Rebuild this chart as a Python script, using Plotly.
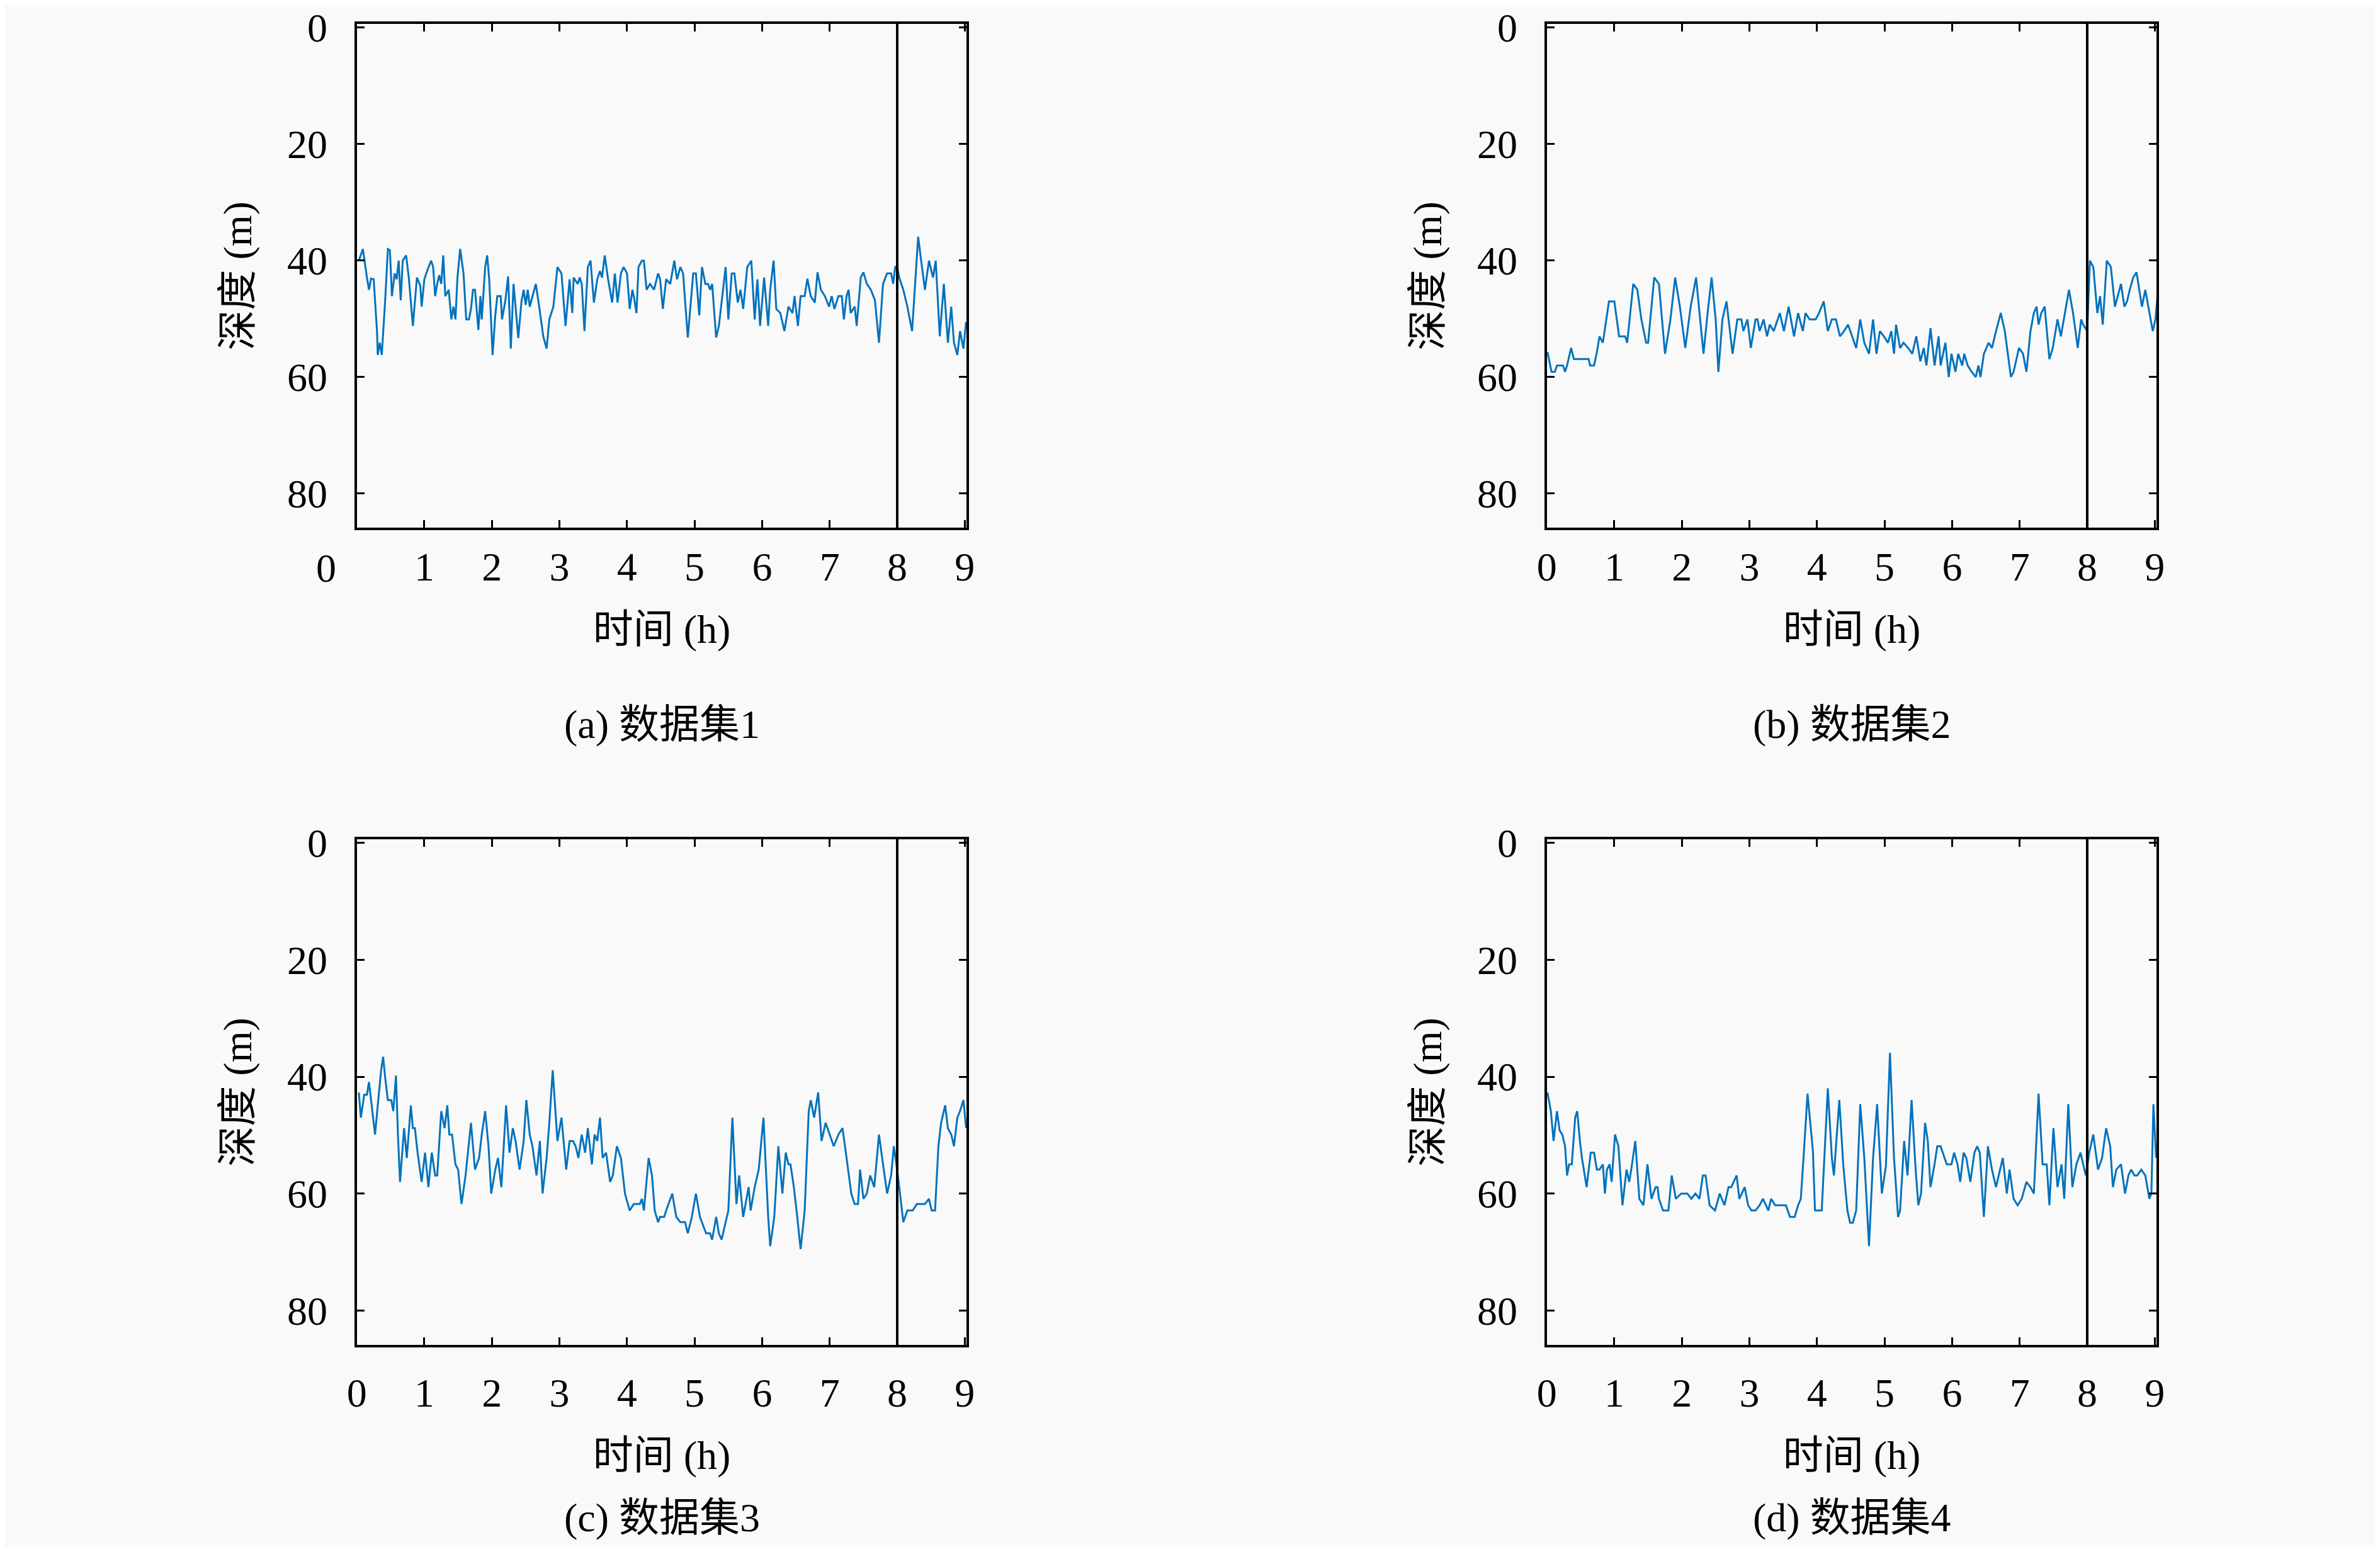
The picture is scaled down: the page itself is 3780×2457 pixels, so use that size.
import plotly.graph_objects as go
from plotly.subplots import make_subplots

# depth readings (m) against time (h), one pair of lists per data set
time_a = [
    0.03, 0.09, 0.15, 0.18, 0.21, 0.25, 0.30, 0.31, 0.34, 0.37,
    0.42, 0.46, 0.49, 0.52, 0.56, 0.59, 0.62, 0.65, 0.68, 0.73,
    0.77, 0.83, 0.89, 0.94, 0.96, 1.00, 1.04, 1.10, 1.13, 1.16,
    1.19, 1.22, 1.25, 1.28, 1.31, 1.36, 1.40, 1.43, 1.46, 1.49,
    1.53, 1.58, 1.62, 1.66, 1.69, 1.72, 1.75, 1.80, 1.83, 1.85,
    1.90, 1.93, 1.96, 2.01, 2.05, 2.08, 2.13, 2.15, 2.20, 2.24,
    2.28, 2.32, 2.35, 2.39, 2.44, 2.47, 2.50, 2.53, 2.56, 2.60,
    2.65, 2.70, 2.76, 2.81, 2.85, 2.91, 2.97, 3.03, 3.09, 3.15,
    3.19, 3.21, 3.27, 3.30, 3.33, 3.37, 3.42, 3.46, 3.51, 3.56,
    3.60, 3.63, 3.67, 3.72, 3.78, 3.82, 3.86, 3.91, 3.95, 4.00,
    4.04, 4.08, 4.10, 4.14, 4.17, 4.22, 4.25, 4.29, 4.34, 4.40,
    4.46, 4.49, 4.53, 4.58, 4.64, 4.70, 4.74, 4.79, 4.83, 4.90,
    4.98, 5.02, 5.07, 5.11, 5.16, 5.20, 5.23, 5.26, 5.32, 5.36,
    5.41, 5.46, 5.50, 5.55, 5.59, 5.64, 5.68, 5.72, 5.78, 5.84,
    5.89, 5.93, 5.97, 6.03, 6.09, 6.12, 6.17, 6.21, 6.27, 6.33,
    6.39, 6.45, 6.48, 6.53, 6.57, 6.63, 6.67, 6.72, 6.78, 6.82,
    6.87, 6.93, 6.99, 7.03, 7.07, 7.13, 7.18, 7.21, 7.25, 7.28,
    7.31, 7.37, 7.40, 7.46, 7.50, 7.55, 7.61, 7.67, 7.73, 7.79,
    7.85, 7.91, 7.94, 7.97, 8.00, 8.03, 8.09, 8.15, 8.22, 8.31,
    8.35, 8.41, 8.47, 8.53, 8.57, 8.63, 8.69, 8.75, 8.80, 8.84,
    8.89, 8.93, 8.98, 9.02,
]
depth_a = [
    40.0, 38.0, 42.9, 45.0, 43.1, 43.2, 52.3, 56.2, 54.1, 56.2,
    46.8, 38.0, 38.2, 46.1, 42.2, 43.2, 40.0, 46.8, 40.0, 39.1,
    42.9, 51.2, 42.9, 44.3, 47.9, 43.2, 41.8, 40.0, 41.1, 46.1,
    44.0, 42.5, 44.0, 39.1, 46.1, 45.0, 50.1, 47.9, 50.1, 42.9,
    38.0, 42.2, 50.1, 50.1, 48.3, 45.0, 45.0, 51.9, 46.1, 50.1,
    41.1, 39.1, 43.2, 56.2, 49.4, 46.1, 46.1, 50.1, 46.8, 42.7,
    55.1, 44.0, 47.9, 53.3, 46.8, 45.0, 47.6, 45.0, 47.9, 46.1,
    44.0, 47.9, 53.0, 55.1, 50.1, 47.9, 41.1, 42.2, 51.2, 43.2,
    49.0, 42.9, 44.0, 42.9, 44.0, 52.1, 41.1, 40.0, 47.2, 43.2,
    41.8, 42.9, 39.1, 43.2, 47.2, 42.2, 47.2, 42.2, 41.1, 42.2,
    48.3, 45.0, 46.1, 49.0, 41.1, 40.0, 40.0, 45.0, 44.0, 45.0,
    42.2, 43.2, 48.3, 43.2, 44.0, 40.0, 43.2, 41.1, 42.2, 53.2,
    42.2, 42.2, 49.4, 41.1, 44.0, 44.0, 45.0, 44.0, 53.2, 51.2,
    46.1, 41.1, 50.1, 42.2, 42.2, 47.2, 45.0, 48.3, 41.1, 40.0,
    50.1, 43.2, 51.2, 42.9, 51.2, 45.0, 40.0, 48.3, 49.0, 52.1,
    47.9, 49.0, 46.1, 51.2, 46.1, 46.1, 43.1, 46.1, 47.2, 42.0,
    45.0, 46.1, 47.9, 46.1, 48.3, 46.1, 46.1, 50.1, 46.1, 45.0,
    49.0, 47.9, 51.2, 42.9, 42.0, 44.0, 45.0, 46.8, 54.1, 44.0,
    42.2, 42.2, 44.0, 41.1, 41.1, 42.9, 45.0, 47.9, 52.1, 35.9,
    39.6, 45.0, 40.0, 42.9, 40.0, 53.0, 44.0, 54.1, 47.9, 54.1,
    56.2, 52.1, 55.1, 50.5,
]

time_b = [
    0.01, 0.07, 0.12, 0.15, 0.24, 0.27, 0.30, 0.36, 0.40, 0.48,
    0.62, 0.64, 0.70, 0.74, 0.78, 0.83, 0.92, 1.00, 1.07, 1.16,
    1.19, 1.28, 1.34, 1.40, 1.47, 1.50, 1.59, 1.66, 1.75, 1.83,
    1.90, 1.97, 2.05, 2.13, 2.21, 2.27, 2.32, 2.38, 2.44, 2.50,
    2.54, 2.60, 2.66, 2.75, 2.82, 2.88, 2.91, 2.97, 3.02, 3.09,
    3.12, 3.15, 3.21, 3.26, 3.30, 3.36, 3.45, 3.51, 3.58, 3.66,
    3.72, 3.79, 3.83, 3.89, 3.98, 4.03, 4.10, 4.16, 4.22, 4.28,
    4.34, 4.40, 4.46, 4.52, 4.58, 4.64, 4.70, 4.77, 4.83, 4.88,
    4.93, 4.99, 5.05, 5.10, 5.14, 5.17, 5.23, 5.28, 5.35, 5.41,
    5.47, 5.53, 5.58, 5.62, 5.68, 5.74, 5.80, 5.83, 5.90, 5.95,
    5.99, 6.05, 6.09, 6.15, 6.18, 6.23, 6.29, 6.35, 6.39, 6.42,
    6.47, 6.54, 6.59, 6.65, 6.72, 6.78, 6.87, 6.91, 6.99, 7.05,
    7.10, 7.16, 7.21, 7.25, 7.28, 7.32, 7.37, 7.44, 7.49, 7.56,
    7.61, 7.67, 7.73, 7.79, 7.86, 7.91, 7.94, 8.00, 8.04, 8.09,
    8.15, 8.19, 8.23, 8.29, 8.35, 8.41, 8.45, 8.50, 8.55, 8.59,
    8.63, 8.68, 8.73, 8.77, 8.81, 8.86, 8.92, 8.97, 9.01, 9.04,
]
depth_b = [
    55.7, 59.1, 59.1, 58.0, 58.0, 59.1, 58.0, 55.0, 56.9, 56.9,
    56.9, 58.0, 58.0, 55.8, 53.0, 54.1, 47.0, 47.0, 53.0, 53.0,
    54.1, 44.0, 45.0, 50.1, 54.1, 54.1, 42.9, 44.0, 56.0, 50.1,
    42.9, 47.9, 55.0, 47.9, 42.9, 50.1, 56.0, 49.0, 42.9, 50.1,
    59.1, 50.1, 47.0, 56.0, 50.1, 50.1, 52.1, 50.1, 55.0, 50.1,
    50.1, 52.1, 50.1, 53.0, 51.0, 52.1, 49.0, 52.1, 47.9, 53.0,
    49.0, 52.1, 49.0, 50.1, 50.1, 49.0, 47.0, 52.1, 50.1, 50.1,
    53.0, 52.1, 51.0, 53.0, 55.0, 50.1, 54.1, 56.0, 50.1, 56.0,
    52.1, 53.0, 54.1, 52.1, 56.0, 51.0, 55.0, 54.1, 55.0, 56.0,
    53.0, 57.3, 55.0, 58.0, 51.6, 58.0, 53.0, 58.0, 54.1, 60.0,
    56.0, 59.1, 56.0, 58.0, 56.0, 58.0, 59.1, 60.0, 58.0, 60.0,
    56.0, 54.1, 55.0, 52.1, 49.0, 52.1, 60.0, 59.1, 55.0, 56.0,
    59.1, 52.1, 49.0, 47.9, 51.0, 49.0, 47.9, 56.9, 55.0, 50.1,
    53.0, 49.0, 45.0, 49.0, 55.0, 50.1, 51.0, 52.1, 40.0, 41.1,
    49.0, 46.1, 51.0, 40.0, 41.1, 47.9, 46.1, 44.0, 47.9, 47.0,
    45.0, 42.9, 42.0, 45.0, 47.9, 45.0, 49.0, 52.1, 50.1, 46.1,
]

time_c = [
    0.03, 0.06, 0.11, 0.15, 0.18, 0.23, 0.27, 0.31, 0.36, 0.39,
    0.42, 0.46, 0.51, 0.54, 0.58, 0.61, 0.64, 0.70, 0.74, 0.80,
    0.83, 0.86, 0.90, 0.96, 1.01, 1.06, 1.11, 1.16, 1.19, 1.25,
    1.30, 1.34, 1.37, 1.41, 1.46, 1.50, 1.55, 1.61, 1.66, 1.69,
    1.75, 1.81, 1.85, 1.90, 1.95, 1.99, 2.05, 2.09, 2.14, 2.21,
    2.26, 2.31, 2.35, 2.41, 2.47, 2.51, 2.56, 2.60, 2.66, 2.71,
    2.75, 2.81, 2.85, 2.90, 2.97, 3.03, 3.10, 3.15, 3.20, 3.24,
    3.28, 3.33, 3.38, 3.42, 3.48, 3.52, 3.56, 3.60, 3.64, 3.69,
    3.75, 3.79, 3.85, 3.91, 3.97, 4.04, 4.10, 4.19, 4.22, 4.25,
    4.32, 4.37, 4.41, 4.46, 4.49, 4.55, 4.58, 4.64, 4.67, 4.73,
    4.79, 4.86, 4.90, 4.96, 5.02, 5.08, 5.14, 5.17, 5.23, 5.26,
    5.32, 5.36, 5.40, 5.44, 5.50, 5.56, 5.62, 5.66, 5.72, 5.80,
    5.83, 5.89, 5.95, 6.02, 6.09, 6.12, 6.18, 6.24, 6.30, 6.35,
    6.39, 6.42, 6.47, 6.51, 6.57, 6.63, 6.69, 6.72, 6.77, 6.83,
    6.88, 6.94, 7.00, 7.06, 7.13, 7.19, 7.25, 7.32, 7.37, 7.42,
    7.45, 7.50, 7.55, 7.60, 7.66, 7.73, 7.79, 7.85, 7.91, 7.95,
    8.01, 8.09, 8.15, 8.23, 8.29, 8.41, 8.47, 8.51, 8.56, 8.61,
    8.65, 8.71, 8.75, 8.80, 8.84, 8.89, 8.93, 8.98, 9.02,
]
depth_c = [
    42.7, 47.0, 43.1, 43.1, 40.9, 45.9, 49.9, 44.9, 38.9, 36.6,
    40.2, 44.0, 44.0, 45.9, 39.8, 50.3, 58.0, 48.8, 53.9, 44.9,
    48.8, 48.8, 53.0, 58.0, 53.0, 58.9, 53.0, 56.9, 56.9, 45.9,
    48.8, 44.9, 49.9, 49.9, 55.0, 55.9, 61.8, 56.9, 51.0, 47.9,
    55.9, 53.9, 49.9, 45.9, 51.9, 60.0, 55.9, 53.9, 58.9, 44.9,
    53.0, 48.8, 51.0, 55.9, 51.0, 44.0, 49.9, 51.9, 56.9, 51.0,
    60.0, 53.9, 47.9, 38.9, 51.0, 47.0, 55.9, 51.0, 51.0, 51.9,
    53.9, 49.9, 53.0, 48.8, 55.0, 49.9, 51.0, 47.0, 53.9, 53.0,
    58.0, 56.9, 51.9, 53.9, 60.0, 62.9, 61.8, 61.8, 60.9, 62.9,
    53.9, 56.9, 62.9, 64.9, 64.0, 64.0, 62.9, 60.9, 60.0, 64.0,
    64.9, 64.9, 66.8, 64.0, 60.0, 64.0, 65.9, 66.8, 66.8, 67.9,
    64.0, 66.8, 67.9, 65.9, 62.9, 47.0, 61.8, 56.9, 64.0, 58.9,
    62.9, 58.9, 55.9, 47.0, 64.0, 69.0, 64.0, 51.9, 60.0, 53.0,
    55.0, 55.0, 58.9, 62.9, 69.5, 62.9, 45.9, 44.0, 47.0, 42.7,
    51.0, 47.9, 49.9, 51.9, 49.9, 48.8, 53.9, 60.0, 61.8, 61.8,
    55.9, 60.9, 60.0, 56.9, 58.9, 49.9, 55.0, 60.0, 56.9, 51.9,
    56.9, 64.9, 62.9, 62.9, 61.8, 61.8, 60.9, 62.9, 62.9, 51.9,
    47.9, 44.9, 48.8, 49.9, 51.9, 47.0, 45.9, 44.0, 48.8,
]

time_d = [
    0.01, 0.06, 0.10, 0.15, 0.19, 0.23, 0.27, 0.30, 0.33, 0.37,
    0.42, 0.45, 0.49, 0.52, 0.59, 0.65, 0.70, 0.74, 0.78, 0.83,
    0.86, 0.89, 0.93, 0.96, 1.01, 1.06, 1.12, 1.18, 1.22, 1.25,
    1.31, 1.37, 1.43, 1.49, 1.55, 1.61, 1.64, 1.66, 1.72, 1.80,
    1.85, 1.91, 1.99, 2.08, 2.14, 2.20, 2.26, 2.31, 2.35, 2.41,
    2.49, 2.56, 2.63, 2.69, 2.73, 2.81, 2.85, 2.93, 2.98, 3.03,
    3.09, 3.15, 3.20, 3.24, 3.28, 3.32, 3.38, 3.45, 3.54, 3.60,
    3.67, 3.72, 3.76, 3.80, 3.86, 3.94, 3.97, 4.07, 4.16, 4.22,
    4.25, 4.33, 4.39, 4.45, 4.49, 4.53, 4.58, 4.64, 4.70, 4.77,
    4.83, 4.89, 4.96, 5.02, 5.08, 5.14, 5.20, 5.23, 5.29, 5.34,
    5.40, 5.46, 5.50, 5.54, 5.60, 5.64, 5.68, 5.74, 5.78, 5.83,
    5.86, 5.92, 5.99, 6.03, 6.08, 6.12, 6.17, 6.21, 6.27, 6.33,
    6.37, 6.41, 6.47, 6.53, 6.59, 6.65, 6.71, 6.75, 6.81, 6.85,
    6.91, 6.97, 7.03, 7.10, 7.16, 7.21, 7.28, 7.34, 7.40, 7.44,
    7.50, 7.56, 7.62, 7.66, 7.72, 7.78, 7.84, 7.90, 7.94, 7.98,
    8.03, 8.09, 8.16, 8.22, 8.28, 8.34, 8.38, 8.43, 8.50, 8.56,
    8.61, 8.65, 8.70, 8.74, 8.80, 8.86, 8.92, 8.95, 8.98, 9.02,
]
depth_d = [
    42.7, 45.9, 51.0, 45.9, 49.2, 49.9, 51.9, 56.9, 55.0, 55.0,
    47.0, 45.9, 51.0, 53.9, 58.9, 53.0, 53.0, 55.9, 55.9, 55.0,
    60.0, 55.9, 55.0, 58.0, 49.9, 51.9, 62.0, 55.9, 58.0, 55.9,
    51.0, 60.9, 62.0, 55.0, 60.9, 58.9, 58.9, 60.9, 62.9, 62.9,
    56.9, 60.9, 60.0, 60.0, 60.9, 60.0, 60.9, 56.9, 56.9, 62.0,
    62.9, 60.0, 62.0, 58.9, 58.9, 56.9, 60.9, 58.9, 62.0, 62.9,
    62.9, 62.0, 60.9, 62.0, 62.9, 60.9, 62.0, 62.0, 62.0, 64.0,
    64.0, 62.0, 60.9, 53.9, 42.9, 52.8, 62.9, 62.9, 42.0, 53.9,
    56.9, 44.0, 55.3, 62.9, 65.0, 65.0, 62.9, 44.7, 53.9, 69.0,
    53.9, 44.7, 60.0, 55.3, 35.9, 53.9, 64.0, 62.9, 51.0, 56.9,
    44.0, 55.9, 62.0, 60.0, 47.9, 51.0, 58.9, 55.0, 51.9, 51.9,
    53.0, 55.0, 55.0, 53.0, 55.0, 58.0, 53.0, 53.9, 58.0, 53.0,
    51.9, 53.0, 64.0, 51.9, 55.9, 58.9, 55.9, 53.9, 60.0, 55.9,
    60.9, 62.0, 60.9, 58.0, 58.9, 60.0, 42.9, 55.0, 55.0, 62.0,
    48.8, 58.9, 55.0, 60.9, 44.7, 58.9, 55.0, 53.0, 55.0, 56.9,
    53.0, 49.9, 55.9, 53.9, 48.8, 51.9, 58.9, 55.9, 55.0, 60.0,
    56.9, 55.9, 56.9, 56.9, 55.9, 56.9, 60.9, 60.0, 44.7, 53.9,
]

captions = ["(a) 数据集1", "(b) 数据集2", "(c) 数据集3", "(d) 数据集4"]
x_ticks = [0, 1, 2, 3, 4, 5, 6, 7, 8, 9]
y_ticks = [0, 20, 40, 60, 80]
split_hour = 8

LINE = "#0072bd"
BG = "#f9f9f9"
FONT = "Liberation Serif, Noto Sans CJK SC, serif"
FS = 64

series = [(time_a, depth_a), (time_b, depth_b), (time_c, depth_c), (time_d, depth_d)]
# page body adds ~8px on the left/top, so domains are nudged back by that much;
# the top row sits a little lower so its "0" labels stay inside the page
x_domains = [[0.1478, 0.4041], [0.6478, 0.9041]]
y_domains = [[0.6620, 0.9878], [0.1339, 0.4608]]
caption_y = [0.535, 0.022]
x_label_gap = [3, 17]

fig = make_subplots(rows=2, cols=2)

for i, (t, d) in enumerate(series):
    r, c = divmod(i, 2)
    row, col = r + 1, c + 1
    fig.add_trace(
        go.Scatter(x=t, y=d, mode="lines", line=dict(color=LINE, width=3),
                   showlegend=False),
        row=row, col=col,
    )
    # first panel has its "0" label drawn off to the left
    tv = x_ticks[1:] if i == 0 else x_ticks
    fig.update_xaxes(
        domain=x_domains[c], range=[0, 9.03], tickvals=tv,
        ticks="inside", ticklen=12, tickwidth=3, tickcolor="black",
        mirror="ticks", showline=True, linecolor="black", linewidth=4,
        showgrid=False, zeroline=False, ticklabelstandoff=x_label_gap[r],
        ticklabeloverflow="allow",
        title=dict(text="时间 (h)", standoff=42, font=dict(size=FS)),
        automargin=False, row=row, col=col,
    )
    fig.update_yaxes(
        domain=y_domains[r], range=[85.9, -0.65], tickvals=y_ticks,
        ticks="inside", ticklen=12, tickwidth=3, tickcolor="black",
        mirror="ticks", showline=True, linecolor="black", linewidth=4,
        showgrid=False, zeroline=False, ticklabelstandoff=30,
        ticklabeloverflow="allow",
        title=dict(text="深度 (m)", standoff=36, font=dict(size=FS)),
        automargin=False, row=row, col=col,
    )
    fig.add_vline(x=split_hour, line=dict(color="black", width=4), row=row, col=col)

    axn = "" if i == 0 else str(i + 1)
    fig.add_annotation(
        text=captions[i], x=0.5, y=caption_y[r], xref=f"x{axn} domain", yref="paper",
        showarrow=False, font=dict(size=FS), xanchor="center", yanchor="middle",
    )

# stray "0" tick label of panel (a)
fig.add_annotation(
    text="0", x=-0.05, y=0.636, xref="x domain", yref="paper", showarrow=False,
    font=dict(size=FS), xanchor="center", yanchor="middle",
)

fig.update_layout(
    width=3780, height=2457,
    margin=dict(l=0, r=0, t=0, b=0),
    paper_bgcolor=BG, plot_bgcolor=BG,
    font=dict(family=FONT, size=FS, color="black"),
)

fig.write_html("out.html")
